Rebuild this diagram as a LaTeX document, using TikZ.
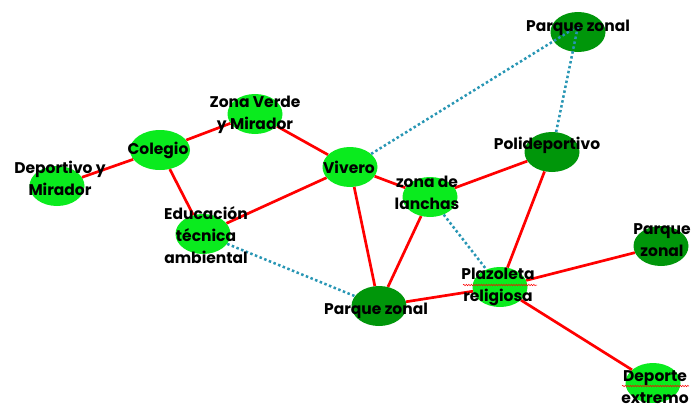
\documentclass[tikz,border=0pt]{standalone}
\usepackage{fontspec}
\setmainfont{Poppins}
\usetikzlibrary{shapes.geometric, decorations.pathmorphing}

\definecolor{verdeclaro}{RGB}{10,235,30}
\definecolor{verdeoscuro}{RGB}{0,150,10}
\definecolor{rojo}{RGB}{255,0,0}
\definecolor{turquesa}{RGB}{40,150,180}

\begin{document}
\begin{tikzpicture}[
    x=1pt, y=-1pt, % one unit per pixel, y downwards
    lugar/.style={ellipse, fill=verdeclaro, minimum width=55pt, minimum height=40pt, inner sep=0pt}, % light green spot
    parque/.style={lugar, fill=verdeoscuro}, % dark green spot
    etiqueta/.style={font=\bfseries\fontsize{15.5}{22}\selectfont, align=center, inner sep=0pt}, % place names
    via/.style={rojo, line width=2.7pt}, % solid links
    enlace/.style={turquesa, line width=2.5pt, dash pattern=on 2.5pt off 2.5pt}, % dotted links
    subrayado/.style={rojo, line width=0.5pt, decorate, decoration={snake, amplitude=0.7pt, segment length=2.5pt}}, % spell marks
  ]

    % Marco
    \useasboundingbox (0,0) rectangle (691,408);
    \clip (0,0) rectangle (691,408);

    % Lugares
    \node[parque] (pztop) at (578,32) {};
    \node[parque] (poli) at (552,152) {};
    \node[lugar] (viv) at (350,167) {};
    \node[lugar] (lan) at (430,197) {};
    \node[lugar] (plaz) at (500,287) {};
    \node[parque] (pzbaj) at (379,306) {};
    \node[parque] (pzder) at (661,246) {};
    \node[lugar] (dep) at (653,383) {};
    \node[lugar, minimum width=60pt] (col) at (160,150) {};
    \node[lugar] (zv) at (255,114) {};
    \node[lugar] (dm) at (57,186) {};
    \node[lugar] (edu) at (203,234) {};

    % Conexiones rojas
    \foreach \i/\j in {dm/col, col/zv, zv/viv, col/edu, edu/viv, viv/pzbaj, viv/lan,
                       lan/poli, lan/pzbaj, poli/plaz, pzbaj/plaz, plaz/pzder, plaz/dep}
    \draw[via] (\i) -- (\j);

    % Conexiones punteadas
    \draw[enlace] (viv) -- ([yshift=6pt]pztop.center);
    \draw[enlace] (poli) -- ([yshift=6pt]pztop.center);
    \draw[enlace] (edu) -- (pzbaj);
    \draw[enlace] (lan) -- (plaz);

    % Nombres
    \node[etiqueta] (tpztop) at (578,28) {Parque zonal};
    \node[etiqueta] (tpoli) at (547,145) {Polideportivo};
    \node[etiqueta] (tviv) at (349,167) {Vivero};
    \node[etiqueta] (tlan) at (427,193) {zona de\\lanchas};
    \node[etiqueta] (tplaz) at (498,287) {Plazoleta\\religiosa};
    \node[etiqueta] (tpzbaj) at (376,311) {Parque zonal};
    \node[etiqueta] (tpzder) at (662,240) {Parque\\zonal};
    \node[etiqueta] (tdep) at (655,387) {Deporte\\extremo};
    \node[etiqueta] (tcol) at (158,150) {Colegio};
    \node[etiqueta] (tzv) at (255,115) {Zona Verde\\y Mirador};
    \node[etiqueta] (tdm) at (60,178) {Deportivo y\\Mirador};
    \node[etiqueta] (tedu) at (206,235) {Educación\\técnica\\ambiental};

    % Marcas de ortografía
    \draw[subrayado] (463,285) -- (537,285);
    \draw[subrayado] (622,386) -- (689,386);
\end{tikzpicture}
\end{document}
